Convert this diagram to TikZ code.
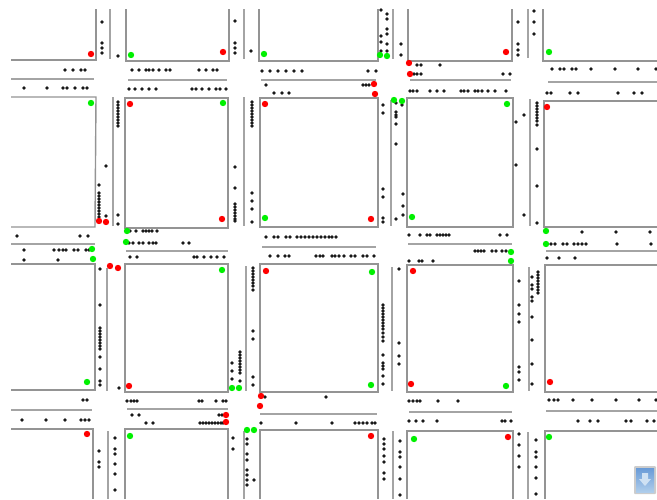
\documentclass[tikz,border=0pt]{standalone}
\usepackage{xcolor}
\usepackage{tikz}
\definecolor{wallgray}{gray}{0.58}
\definecolor{lightred}{RGB}{255,0,0}
\definecolor{lightgreen}{RGB}{0,240,0}
\definecolor{buttontop}{RGB}{105,155,215}
\definecolor{buttonbottom}{RGB}{175,205,235}
\newcommand{\carsh}[2]{\foreach \px in {#2} {\fill[car] (\px,#1) circle (1.9);}}
\newcommand{\carsv}[2]{\foreach \py in {#2} {\fill[car] (#1,\py) circle (1.9);}}
\newcommand{\redlights}[1]{\foreach \px/\py in {#1} {\fill[redlight] (\px,\py) circle (3.2);}}
\newcommand{\greenlights}[1]{\foreach \px/\py in {#1} {\fill[greenlight] (\px,\py) circle (3.2);}}
\begin{document}
\begin{tikzpicture}[
  x=1pt, y=-1pt,
  wall/.style={draw=wallgray, line width=1.4pt},
  median/.style={draw=wallgray!85, line width=1.3pt},
  car/.style={fill=black!90},
  redlight/.style={fill=lightred},
  greenlight/.style={fill=lightgreen},
]
  \useasboundingbox (0,0) rectangle (657,499);

  % horizontal kerbs, road 1
  \draw[wall] (11,60) -- (96,60) -- (96,9);
  \draw[wall] (126,9) -- (126,61) -- (229,61) -- (229,9);
  \draw[wall] (259,9) -- (259,61) -- (378,61) -- (378,9);
  \draw[wall] (408,9) -- (408,61) -- (512,61) -- (512,9);
  \draw[wall] (543,9) -- (543,61) -- (657,61);
  \draw[wall] (11,97) -- (96,97) -- (95,227) -- (11,227);
  \draw[wall] (125,228) -- (125,98) -- (228,98) -- (228,228) -- cycle;
  \draw[wall] (260,227) -- (260,98) -- (378,98) -- (378,227) -- cycle;
  \draw[wall] (407,227) -- (407,98) -- (513,98) -- (513,227) -- cycle;
  \draw[wall] (657,101) -- (544,101) -- (544,227) -- (657,227);

  % kerbs, road 2 to road 3
  \draw[wall] (11,264) -- (95,264) -- (95,390) -- (11,390);
  \draw[wall] (125,392) -- (125,264) -- (228,264) -- (228,392) -- cycle;
  \draw[wall] (260,392) -- (260,264) -- (378,264) -- (378,392) -- cycle;
  \draw[wall] (407,392) -- (407,265) -- (513,265) -- (513,392) -- cycle;
  \draw[wall] (657,265) -- (545,265) -- (545,392) -- (657,392);

  % kerbs, bottom row
  \draw[wall] (11,429) -- (93,429) -- (93,499);
  \draw[wall] (125,499) -- (125,429) -- (228,429) -- (228,499);
  \draw[wall] (260,499) -- (260,430) -- (378,430) -- (378,499);
  \draw[wall] (407,499) -- (407,431) -- (513,431) -- (513,499);
  \draw[wall] (657,431) -- (545,431) -- (545,499);

  % centre lines along the roads
  \draw[median] (11,79) -- (94,79);
  \draw[median] (128,80) -- (227,80);
  \draw[median] (261,80) -- (376,80);
  \draw[median] (410,80) -- (511,80);
  \draw[median] (548,82) -- (657,82);
  \draw[median] (11,244) -- (95,244);
  \draw[median] (126,251) -- (228,251);
  \draw[median] (262,247) -- (376,247);
  \draw[median] (408,244) -- (512,244);
  \draw[median] (546,251) -- (657,251);
  \draw[median] (11,410) -- (92,410);
  \draw[median] (127,409) -- (228,409);
  \draw[median] (260,414) -- (377,414);
  \draw[median] (409,412) -- (512,412);
  \draw[median] (546,411) -- (657,411);

  % centre lines across the roads
  \foreach \px/\ya/\yb in {110/9/59, 113/97/226, 107/268/391, 108/431/499,
      244/9/59, 244/97/226, 246/266/391, 244/431/499,
      393/9/59, 391/100/226, 392/267/391, 393/431/499,
      528/9/58, 530/99/226, 529/267/391, 528/432/499}
    \draw[median] (\px,\ya) -- (\px,\yb);

  % cars on the horizontal roads
  \carsh{70}{65,73,81,85,132,139,146,149,153,159,166,170,199,206,213,217}
  \carsh{88}{24,47,63,67,75,83,87}
  \carsh{89}{129,135,142,149,156,192,196,202,209,216,220,226}
  \carsh{71}{262,270,278,286,294,302,368,376}
  \carsh{85}{266,363,366,369}
  \carsh{93}{274,282,289}
  \carsh{65}{417,421,440}
  \carsh{74}{414,417,421,503,510}
  \carsh{91}{410,413,417,430,437,444,461,464,468,475,478,482,488,495,506}
  \carsh{69}{552,560,564,572,576,591,615,638,656}
  \carsh{93}{547,551,570,578,618,634,642}

  \carsh{236}{17,80,88}
  \carsh{250}{24,54,59,63,66,74,78,86,89}
  \carsh{260}{24,58}
  \carsh{231}{130,136,143,146,149,152,157}
  \carsh{243}{129,133,139,143,149,153,156,183,189}
  \carsh{257}{130,137,194,197,204,211,217,224}
  \carsh{237}{266,274,278,286,290,297,301,305,309,313,317,321,325,329,332,336}
  \carsh{256}{270,278,285,289,316,320,323,332,335,339,344,351,355,363,367,374}
  \carsh{235}{409,420,427,430,437,440,443,446,449,500,507}
  \carsh{261}{409,419,422,433}
  \carsh{251}{475,478,481,484,492,496,502,506}
  \carsh{232}{582,616,650}
  \carsh{244}{551,555,563,567,574,578,582,586,617,651}
  \carsh{258}{547,559,575}

  \carsh{400}{83,87}
  \carsh{420}{22,46,65,81,85,89}
  \carsh{401}{127,131,134,137,199,202,216,223,226}
  \carsh{415}{132,139,219,222}
  \carsh{423}{146,153,200,203,206,209,212,215,218,221,223}
  \carsh{397}{265,326}
  \carsh{423}{261,296,332,355,359,363,367,372,375}
  \carsh{401}{409,413,417,420,438,458}
  \carsh{421}{409,416,423,437,502,505,511}
  \carsh{400}{549,554,558,573,592,616,639,656}
  \carsh{421}{578,590,598,626,631,647,654}

  % cars on the vertical roads
  \carsv{102}{22,43,48,53}
  \carsv{118}{56,102,105,108,111,114,117,120,123,126,215,224}
  \carsv{106}{166,216}
  \carsv{99}{185,193,196,199,202,205,208,211,214,217}
  \carsv{100}{269,305,328,331,334,337,340,343,346,349,357,369,381,385}
  \carsv{119}{388}
  \carsv{99}{451,462,467}
  \carsv{115}{438,449,454,464,474,490}

  \carsv{235}{21,43,48,53,167,188,204,207,210,213,216,219,221}
  \carsv{251}{51}
  \carsv{252}{102,105,108,111,114,117,120,123,126,193,201,209,222}
  \carsv{253}{268,271,274,277,280,283,286,290,331,339,377,385}
  \carsv{240}{352,355,358,361,364,367,370,373,381}
  \carsv{232}{363,371,379}
  \carsv{233}{438,449}
  \carsv{247}{439,444,454,460,470,475,480,485}
  \carsv{254}{480}

  \carsv{381}{10,36,42,51}
  \carsv{387}{14,19,29,34,44,51}
  \carsv{401}{44,55}
  \carsv{383}{105,113,189,197,218,222}
  \carsv{396}{103,112,115,117,124,144,219}
  \carsv{402}{105}
  \carsv{403}{194,206,215}
  \carsv{399}{269,343,356,364}
  \carsv{383}{305,308,311,314,317,320,323,326,329,333,337,341,355,363,366,369,376,384}
  \carsv{384}{439,444,449,456,462,473,479}
  \carsv{400}{441,452,457,467,479,495}

  \carsv{518}{22,44,50,55}
  \carsv{534}{11,22,34}
  \carsv{537}{103,106,109,112,115,118,121,125,149,186,223}
  \carsv{524}{115,215}
  \carsv{516}{122,165}
  \carsv{519}{281,305,314,322,367,372,380}
  \carsv{532}{277,285,289,297,301,317,340,364,384}
  \carsv{538}{272,275,278,281,284,287,290,293}
  \carsv{519}{434,445,456,467}
  \carsv{536}{440,452,457,467,478,494}

  % traffic lights
  \redlights{91/54, 130/104, 223/52, 265/104, 409/63, 410/74, 374/84, 375/94,
    506/52, 547/107, 99/221, 106/222, 110/266, 118/268, 222/219, 371/219,
    266/271, 413/271, 129/386, 87/434, 261/396, 260/406, 226/415, 226/422,
    411/384, 371/436, 550/382, 508/437}
  \greenlights{131/55, 91/103, 264/54, 223/103, 380/55, 387/56, 394/100, 402/101,
    549/52, 507/104, 127/231, 126/242, 92/249, 93/259, 265/218, 412/217,
    222/270, 372/272, 546/231, 546/244, 511/252, 511/261, 87/382, 130/436,
    232/388, 239/388, 247/430, 254/430, 371/385, 414/439, 506/386, 549/437}

  % scroll button in the corner
  \fill[gray!40, rounded corners=1pt] (634,466) rectangle (656,494);
  \shade[top color=buttontop, bottom color=buttonbottom] (636,468) rectangle (654,492);
  \fill[buttonbottom!60!white] (642,473) -- (648,473) -- (648,479) -- (651,479) -- (645,486) -- (639,479) -- (642,479) -- cycle;
\end{tikzpicture}
\end{document}
